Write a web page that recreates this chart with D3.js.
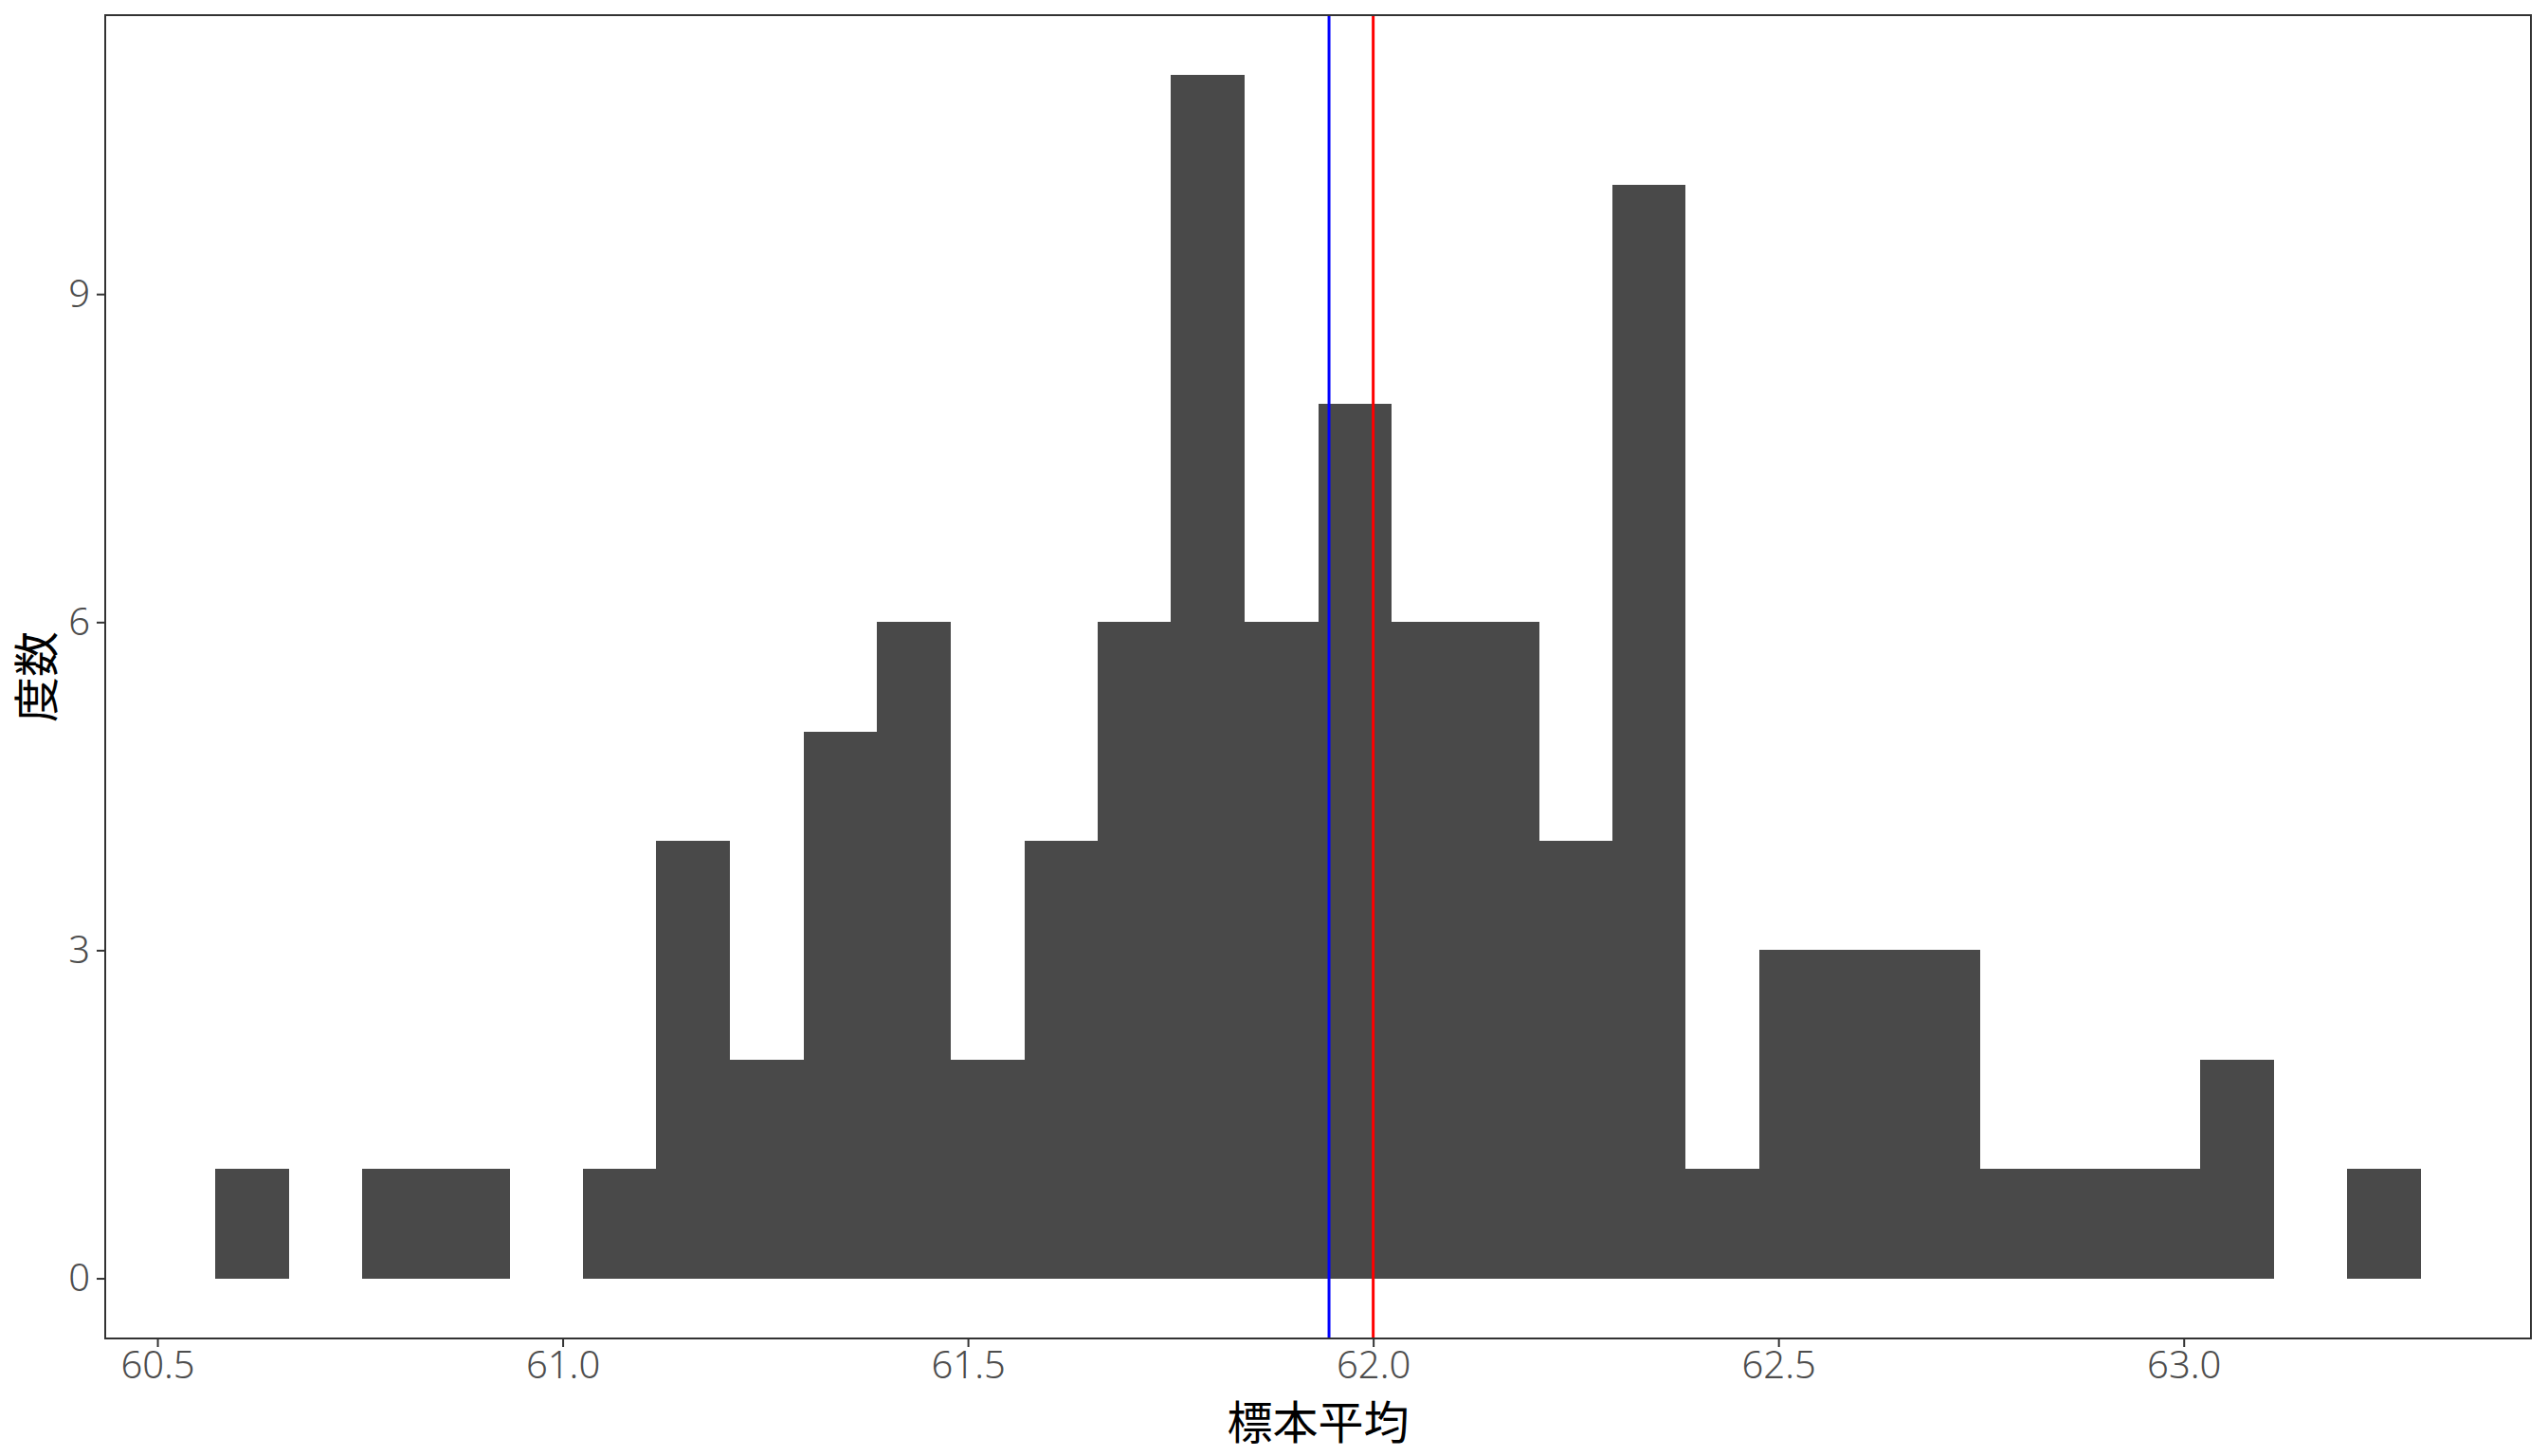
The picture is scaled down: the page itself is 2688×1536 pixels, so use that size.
<!DOCTYPE html>
<html>
<head>
<meta charset="utf-8">
<script src="https://cdn.jsdelivr.net/npm/d3@7"></script>
<style>
  html, body { margin: 0; padding: 0; background: #fff; }
  svg { display: block; }
  text { font-family: "Noto Sans CJK JP", "Noto Sans", sans-serif; }
</style>
</head>
<body>
<svg id="chart" width="2688" height="1536"></svg>
<script>
// ---- data ----
const binCenters = [60.617, 60.708, 60.798, 60.889, 60.980, 61.070, 61.161, 61.252, 61.343, 61.433,
                    61.524, 61.615, 61.705, 61.796, 61.887, 61.977, 62.068, 62.159, 62.250, 62.340,
                    62.431, 62.522, 62.612, 62.703, 62.794, 62.884, 62.975, 63.066, 63.156, 63.247];
const binCounts  = [1, 0, 1, 1, 0, 1, 4, 2, 5, 6,
                    2, 4, 6, 11, 6, 8, 6, 6, 4, 10,
                    1, 3, 3, 3, 1, 1, 1, 2, 0, 1];
const binWidth = 0.0907;
const sampleMean = 61.9455;   // blue line
const popMean = 62.0;         // red line
const xTicks = [60.5, 61.0, 61.5, 62.0, 62.5, 63.0];
const yTicks = [0, 3, 6, 9];
const xLabel = "標本平均";
const yLabel = "度数";

// ---- layout ----
const panel = { left: 111, right: 2670, top: 16, bottom: 1412 };
const svg = d3.select("#chart");

const nBins = binCenters.length;
const xMin = binCenters[0] - binWidth / 2;
const xMax = binCenters[nBins - 1] + binWidth / 2;
const xPad = (xMax - xMin) * 0.05;
const yMaxVal = d3.max(binCounts);
const yPad = yMaxVal * 0.05;

const x = d3.scaleLinear().domain([xMin - xPad, xMax + xPad]).range([panel.left, panel.right]);
const y = d3.scaleLinear().domain([-yPad, yMaxVal + yPad]).range([panel.bottom, panel.top]);

// shared bin edges so adjacent bars meet exactly
const leftEdge = i => i === 0 ? binCenters[0] - binWidth / 2 : (binCenters[i - 1] + binCenters[i]) / 2;
const rightEdge = i => i === nBins - 1 ? binCenters[i] + binWidth / 2 : (binCenters[i] + binCenters[i + 1]) / 2;

const bars = binCenters.map((c, i) => ({
  x0: Math.round(x(leftEdge(i))),
  x1: Math.round(x(rightEdge(i))),
  n: binCounts[i]
})).filter(d => d.n > 0);

svg.append("g").selectAll("rect")
  .data(bars)
  .join("rect")
  .attr("x", d => d.x0)
  .attr("width", d => d.x1 - d.x0)
  .attr("y", d => Math.round(y(d.n)))
  .attr("height", d => Math.round(y(0)) - Math.round(y(d.n)))
  .attr("fill", "#494949")
  .attr("shape-rendering", "crispEdges");

// vertical lines
svg.append("line")
  .attr("x1", x(sampleMean)).attr("x2", x(sampleMean))
  .attr("y1", panel.top).attr("y2", panel.bottom)
  .attr("stroke", "#0000FF").attr("stroke-width", 3);
svg.append("line")
  .attr("x1", x(popMean)).attr("x2", x(popMean))
  .attr("y1", panel.top).attr("y2", panel.bottom)
  .attr("stroke", "#FF0000").attr("stroke-width", 3);

// panel border
svg.append("rect")
  .attr("x", panel.left).attr("y", panel.top)
  .attr("width", panel.right - panel.left).attr("height", panel.bottom - panel.top)
  .attr("fill", "none").attr("stroke", "#333333").attr("stroke-width", 2);

// axes
const xAxis = svg.append("g")
  .attr("transform", `translate(0,${panel.bottom})`)
  .call(d3.axisBottom(x).tickValues(xTicks).tickFormat(d3.format(".1f")).tickSize(9).tickPadding(5));
const yAxis = svg.append("g")
  .attr("transform", `translate(${panel.left},0)`)
  .call(d3.axisLeft(y).tickValues(yTicks).tickFormat(d3.format("d")).tickSize(9).tickPadding(7));

[xAxis, yAxis].forEach(g => {
  g.select(".domain").remove();
  g.selectAll(".tick line").attr("stroke", "#333333").attr("stroke-width", 2);
  g.selectAll(".tick text")
    .attr("fill", "#4D4D4D")
    .style("font-size", "40px")
    .style("font-weight", "300")
    .style("font-family", '"Noto Sans", "Open Sans", sans-serif');
});

// axis titles
svg.append("text")
  .attr("x", (panel.left + panel.right) / 2)
  .attr("y", 1497)
  .attr("text-anchor", "middle")
  .attr("dominant-baseline", "central")
  .style("font-size", "48px")
  .attr("fill", "#000")
  .text(xLabel);

svg.append("text")
  .attr("transform", `translate(35,${(panel.top + panel.bottom) / 2}) rotate(-90)`)
  .attr("text-anchor", "middle")
  .attr("dominant-baseline", "central")
  .style("font-size", "48px")
  .attr("fill", "#000")
  .text(yLabel);
</script>
</body>
</html>
